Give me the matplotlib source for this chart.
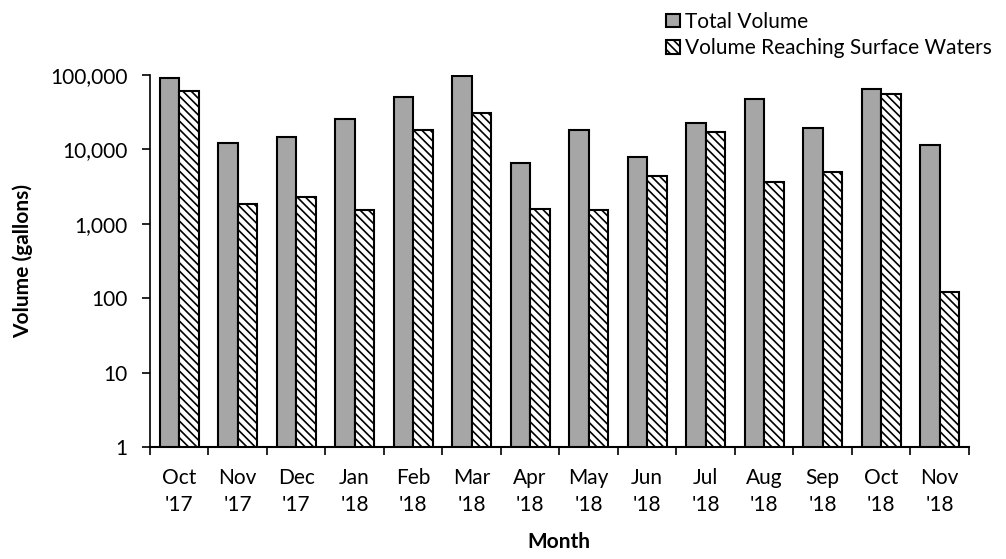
import matplotlib.pyplot as plt
import numpy as np
from matplotlib.ticker import FixedLocator, FuncFormatter

plt.rcParams["font.family"] = ["Lato", "DejaVu Sans"]
plt.rcParams["hatch.linewidth"] = 1.2

# --- data ---
months = ["Oct\n'17", "Nov\n'17", "Dec\n'17", "Jan\n'18", "Feb\n'18", "Mar\n'18", "Apr\n'18",
          "May\n'18", "Jun\n'18", "Jul\n'18", "Aug\n'18", "Sep\n'18", "Oct\n'18", "Nov\n'18"]
total_volume = [91000, 12200, 14700, 25600, 50500, 97000, 6600,
                18200, 7900, 22600, 48000, 19400, 64800, 11500]
surface_volume = [61000, 1850, 2290, 1530, 18200, 31000, 1580,
                  1530, 4400, 17000, 3650, 5000, 55000, 121]

fig = plt.figure(figsize=(10.06, 5.59), dpi=100)
ax = fig.add_axes([0.149, 0.2, 0.814, 0.666])

x = np.arange(len(months))
w = 0.333
ax.bar(x - w / 2, total_volume, w, color="#a6a6a6", edgecolor="black",
       linewidth=1.5, label="Total Volume")
ax.bar(x + w / 2, surface_volume, w, color="white", edgecolor="black",
       linewidth=1.5, hatch="\\\\\\\\", label="Volume Reaching Surface Waters")

ax.set_yscale("log")
ax.set_ylim(1, 100000)
ax.set_xlim(-0.5, len(months) - 0.5)
ax.yaxis.set_major_locator(FixedLocator([1, 10, 100, 1000, 10000, 100000]))
ax.yaxis.set_minor_locator(FixedLocator([]))
ax.yaxis.set_major_formatter(FuncFormatter(lambda v, p: f"{int(v):,}"))

ax.set_xticks(x)
ax.set_xticklabels(months, linespacing=1.45)
ax.set_xticks(np.arange(-0.5, len(months), 1), minor=True)
ax.tick_params(axis="x", which="major", length=0, pad=15, labelsize=15)
ax.tick_params(axis="x", which="minor", length=6, width=1.2, direction="out")
ax.tick_params(axis="y", length=6, width=1.2, labelsize=15, pad=10)

for s in ["top", "right"]:
    ax.spines[s].set_visible(False)
ax.spines["left"].set_linewidth(1.2)
ax.spines["bottom"].set_linewidth(1.5)

ax.set_ylabel("Volume (gallons)", fontsize=15, fontweight="bold", labelpad=12)
ax.set_xlabel("Month", fontsize=15, fontweight="bold", labelpad=12)

ax.legend(loc="upper left", bbox_to_anchor=(0.648, 1.005), bbox_transform=fig.transFigure,
          frameon=False, fontsize=15, handlelength=0.65, handleheight=0.65,
          handletextpad=0.25, labelspacing=0.3, borderaxespad=0.3)

fig.savefig("out.png", dpi=100)
